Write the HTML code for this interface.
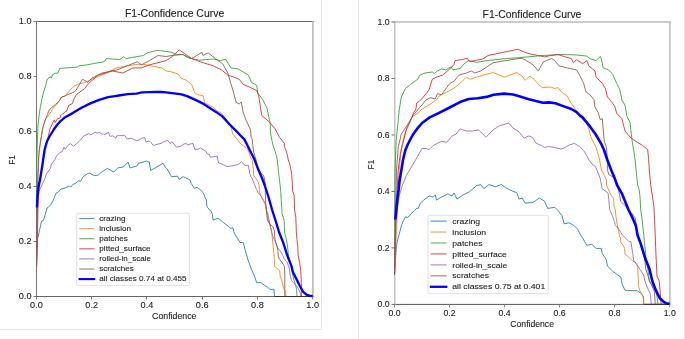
<!DOCTYPE html>
<html><head><meta charset="utf-8"><title>F1-Confidence Curves</title><style>
html,body{margin:0;padding:0;background:#fff;}
body{width:685px;height:339px;overflow:hidden;}
svg{display:block;}
text{font-family:"Liberation Sans",sans-serif;}
.t{will-change:transform;}
</style></head><body>
<svg class="t" width="685" height="339" viewBox="0 0 685 339">
<rect width="685" height="339" fill="#fff"/>
<line x1="321.5" y1="0" x2="321.5" y2="330" stroke="#e8e8e8" stroke-width="1"/>
<line x1="0" y1="329.5" x2="322" y2="329.5" stroke="#e8e8e8" stroke-width="1"/>
<line x1="358.5" y1="0" x2="358.5" y2="339" stroke="#e8e8e8" stroke-width="1"/>
<line x1="684.5" y1="0" x2="684.5" y2="339" stroke="#e8e8e8" stroke-width="1"/>
<line x1="36" y1="21.5" x2="313.7" y2="21.5" stroke="#666" stroke-width="1"/>
<line x1="36" y1="296.5" x2="313.7" y2="296.5" stroke="#666" stroke-width="1"/>
<line x1="36.5" y1="21" x2="36.5" y2="297" stroke="#777" stroke-width="1"/>
<line x1="312.9" y1="21" x2="312.9" y2="297" stroke="#b9b9b9" stroke-width="1.6"/>
<path d="M36.5,268.0 L37.5,239.0 L39.6,230.0 L41.5,221.2 L43.3,220.5 L45.2,214.6 L47.0,208.0 L48.1,207.6 L50.6,204.8 L53.2,200.6 L55.8,193.4 L57.9,192.4 L61.0,189.1 L65.2,188.0 L69.3,186.0 L70.8,187.0 L72.9,184.4 L75.5,183.4 L78.6,180.8 L80.6,181.3 L83.2,176.7 L87.9,173.4 L89.9,173.1 L92.0,174.6 L94.6,175.6 L98.2,175.1 L102.3,171.5 L107.5,168.4 L113.7,172.0 L117.8,167.9 L123.5,166.9 L127.1,163.1 L128.0,162.2 L130.1,167.9 L137.3,165.8 L138.3,163.3 L144.5,161.7 L146.6,161.0 L148.1,162.2 L149.2,161.7 L150.7,170.5 L156.9,166.9 L163.1,163.3 L165.7,167.9 L167.2,168.9 L171.4,176.7 L177.6,176.2 L179.1,179.3 L183.2,176.7 L189.9,179.8 L191.3,183.5 L194.4,188.4 L197.1,187.3 L199.7,189.3 L202.4,191.5 L204.2,195.0 L205.5,199.0 L206.4,199.5 L206.8,206.0 L207.7,207.7 L211.2,211.6 L212.5,214.7 L213.0,220.0 L218.3,218.3 L223.6,222.7 L228.9,226.7 L230.7,228.5 L232.9,227.6 L233.8,231.5 L235.1,234.6 L240.1,242.5 L243.2,242.5 L245.3,250.7 L248.4,261.0 L251.5,269.3 L254.6,276.5 L256.7,282.7 L260.8,282.7 L263.9,284.8 L266.0,286.3 L267.5,287.1 L269.7,289.3 L273.9,289.3 L274.5,296.5 L312.5,296.5" fill="none" stroke="#1f77b4" stroke-width="0.95" stroke-opacity="0.9" stroke-linejoin="round"/>
<path d="M36.5,268.0 L37.5,200.0 L38.0,180.0 L38.6,165.0 L38.9,155.0 L39.5,149.2 L40.6,142.2 L41.7,135.1 L42.5,130.0 L43.1,126.1 L44.4,123.0 L45.3,119.9 L46.6,117.7 L48.8,115.0 L49.3,114.2 L51.0,111.9 L52.8,108.8 L54.6,106.2 L57.2,104.0 L59.9,100.0 L61.1,97.4 L64.7,95.9 L68.2,92.7 L69.4,90.3 L71.8,88.5 L74.0,86.2 L77.4,84.4 L85.6,82.3 L93.9,78.2 L104.2,74.1 L116.6,67.9 L126.9,65.8 L137.2,64.4 L146.5,64.8 L155.8,66.8 L162.0,67.9 L166.1,71.0 L172.0,72.0 L178.2,74.1 L181.3,78.2 L186.5,80.3 L191.6,84.4 L194.7,92.7 L197.8,94.7 L203.0,95.8 L204.6,102.0 L205.0,103.1 L213.3,107.2 L216.4,110.3 L221.6,113.4 L230.8,126.8 L232.9,134.1 L238.1,140.3 L240.0,143.1 L243.7,146.1 L247.4,148.6 L248.8,152.0 L250.3,157.1 L252.2,160.0 L253.3,168.8 L253.7,175.5 L255.9,178.4 L258.1,182.1 L259.1,185.0 L259.4,191.6 L261.6,197.5 L264.6,203.4 L266.1,207.1 L266.5,210.0 L267.4,217.4 L268.5,219.6 L269.6,224.7 L271.5,230.0 L272.3,237.9 L273.1,246.7 L274.2,256.3 L274.5,266.1 L276.7,268.3 L279.7,270.5 L280.1,275.6 L281.5,280.0 L284.1,289.3 L285.6,290.8 L285.9,296.5 L312.5,296.5" fill="none" stroke="#ff7f0e" stroke-width="0.95" stroke-opacity="0.9" stroke-linejoin="round"/>
<path d="M36.5,268.0 L36.8,165.0 L37.1,150.0 L37.4,140.0 L37.8,130.0 L38.2,123.8 L39.1,115.0 L40.4,106.6 L41.8,100.0 L42.8,95.0 L44.0,90.9 L45.8,85.0 L47.3,79.0 L50.4,76.8 L51.3,78.1 L52.6,74.6 L55.2,73.3 L57.9,73.1 L59.7,68.4 L65.0,68.0 L77.4,67.1 L79.1,65.8 L87.1,64.9 L94.0,63.5 L104.2,61.7 L106.3,58.6 L119.7,59.6 L123.8,56.5 L125.9,58.6 L143.4,55.5 L147.6,52.8 L156.9,50.3 L166.1,51.4 L172.0,52.4 L175.1,54.0 L178.2,54.5 L183.4,54.5 L187.5,57.6 L198.8,60.2 L213.3,59.0 L220.5,60.6 L225.7,59.2 L230.8,67.9 L238.1,68.9 L248.4,75.1 L251.5,82.3 L256.7,85.4 L257.7,92.7 L262.9,99.9 L267.0,108.3 L270.1,122.7 L270.5,133.0 L271.7,139.4 L273.2,146.1 L275.4,152.0 L277.3,160.0 L278.0,167.4 L278.8,174.7 L280.1,185.0 L280.8,192.4 L281.2,199.7 L281.9,209.3 L282.1,214.4 L283.6,218.1 L284.3,221.8 L284.5,232.0 L285.6,236.4 L287.4,244.5 L288.5,256.3 L291.0,266.0 L293.7,279.3 L295.5,284.8 L296.6,289.3 L297.0,296.5 L312.5,296.5" fill="none" stroke="#2ca02c" stroke-width="0.95" stroke-opacity="0.9" stroke-linejoin="round"/>
<path d="M36.5,268.0 L37.5,230.0 L38.2,200.0 L38.7,186.0 L40.0,180.0 L41.2,172.5 L42.4,165.0 L43.4,158.0 L44.6,150.0 L45.9,145.0 L47.3,140.7 L48.6,135.4 L49.7,129.6 L50.6,127.4 L52.8,122.5 L54.6,119.9 L55.0,122.5 L57.7,118.5 L59.9,118.1 L60.8,115.4 L63.0,113.7 L65.6,111.5 L66.3,111.5 L68.9,105.3 L72.5,103.5 L73.4,100.0 L76.3,94.7 L84.6,88.5 L88.7,83.4 L98.0,75.1 L112.5,71.0 L122.8,73.0 L133.1,67.9 L141.4,67.9 L149.6,64.8 L166.1,60.6 L172.3,56.5 L179.2,49.9 L184.4,53.4 L191.6,58.6 L203.0,62.7 L213.3,65.8 L221.6,69.9 L227.8,75.1 L233.9,77.2 L239.1,79.2 L243.2,84.4 L250.5,87.5 L256.7,90.6 L258.7,95.8 L261.8,115.5 L269.0,121.7 L275.2,128.9 L279.4,137.2 L284.5,143.4 L284.2,146.1 L285.7,149.7 L287.2,154.2 L288.3,160.0 L289.8,164.4 L290.9,169.6 L291.7,174.7 L292.4,185.0 L292.6,190.9 L294.1,195.3 L294.5,203.4 L294.5,209.3 L295.8,217.4 L296.1,224.7 L296.3,232.0 L297.0,239.4 L297.8,246.7 L298.1,255.0 L299.6,262.4 L300.7,269.8 L301.0,276.0 L301.4,283.4 L301.2,289.3 L301.5,296.5 L312.5,296.5" fill="none" stroke="#d62728" stroke-width="0.95" stroke-opacity="0.9" stroke-linejoin="round"/>
<path d="M36.5,268.0 L37.0,215.0 L38.2,198.0 L39.5,190.0 L41.5,186.0 L44.2,180.0 L45.0,178.3 L46.4,173.8 L47.7,172.1 L50.4,168.5 L51.2,165.0 L52.6,162.4 L54.8,159.7 L56.5,156.2 L60.0,152.4 L62.1,151.8 L64.1,147.2 L65.2,149.3 L67.7,145.6 L70.3,143.6 L73.4,146.2 L76.5,143.6 L80.6,140.0 L83.2,136.4 L84.8,135.3 L88.9,133.8 L91.0,134.8 L95.1,132.2 L97.2,133.3 L99.2,132.2 L102.3,134.3 L103.4,133.8 L104.4,134.8 L108.5,132.2 L110.1,136.4 L112.7,135.8 L115.8,138.2 L116.8,135.8 L124.5,135.3 L127.1,138.9 L128.0,138.9 L131.1,138.2 L136.3,140.5 L138.3,140.3 L141.4,138.4 L144.5,137.6 L146.1,142.0 L148.6,141.0 L150.2,141.5 L153.3,145.6 L155.9,144.6 L161.0,143.4 L164.1,141.5 L167.7,140.5 L170.3,143.6 L171.9,141.5 L176.5,147.2 L180.7,146.2 L183.8,144.1 L186.3,143.4 L187.4,145.1 L189.9,144.1 L193.0,143.4 L194.6,149.3 L198.0,149.3 L200.4,148.0 L205.7,151.1 L207.5,154.2 L209.3,154.2 L210.2,157.3 L217.2,156.1 L218.6,163.0 L220.8,163.5 L227.0,166.5 L233.2,165.7 L238.5,164.3 L241.6,161.7 L245.1,165.7 L248.2,165.2 L249.1,170.0 L249.4,170.0 L249.6,173.0 L250.5,176.0 L252.2,178.4 L254.4,184.3 L255.0,185.7 L256.5,189.4 L257.9,192.4 L260.9,196.1 L263.8,200.5 L265.7,204.2 L266.4,209.3 L268.0,215.0 L270.0,224.0 L271.6,232.0 L273.1,237.2 L275.3,241.6 L277.5,247.5 L280.4,251.2 L282.6,255.0 L284.1,258.7 L287.1,262.4 L289.3,268.3 L290.3,276.0 L291.4,280.4 L294.0,283.4 L295.5,284.8 L298.0,288.0 L300.3,293.0 L300.7,296.5 L312.5,296.5" fill="none" stroke="#9467bd" stroke-width="0.95" stroke-opacity="0.9" stroke-linejoin="round"/>
<path d="M36.5,268.0 L37.3,200.0 L37.8,180.0 L38.3,165.0 L38.7,156.0 L39.3,149.0 L40.4,142.0 L41.5,135.0 L42.3,130.0 L43.3,126.0 L44.5,122.0 L46.0,118.0 L47.5,114.6 L48.4,111.9 L49.7,109.3 L51.9,107.5 L55.5,104.4 L59.9,100.0 L61.1,97.4 L65.9,95.6 L69.4,93.8 L74.0,92.1 L76.0,90.3 L82.5,79.2 L87.7,82.3 L91.8,78.2 L102.1,73.0 L116.6,70.0 L124.9,66.8 L137.2,61.7 L141.4,64.8 L149.6,60.6 L157.9,55.5 L166.1,56.5 L172.0,55.5 L182.3,54.5 L191.6,58.6 L196.8,55.5 L201.9,52.4 L203.0,55.5 L208.1,52.8 L215.4,58.6 L222.6,63.7 L227.8,73.0 L230.8,83.4 L233.9,93.7 L236.0,102.0 L239.1,104.0 L241.2,102.0 L243.2,112.4 L246.3,120.6 L250.5,129.9 L251.1,137.0 L252.2,139.4 L252.9,146.1 L253.6,152.0 L255.9,159.3 L257.7,168.1 L261.1,173.3 L263.6,175.5 L264.4,178.4 L265.3,185.0 L265.3,192.4 L265.7,203.4 L266.1,209.3 L267.0,215.9 L267.4,220.3 L270.3,224.7 L273.3,227.0 L274.0,229.9 L274.5,232.0 L274.9,239.4 L276.7,245.3 L277.9,250.4 L278.2,256.3 L279.7,259.4 L283.4,264.6 L284.5,266.8 L284.8,276.0 L284.8,296.5 L312.5,296.5" fill="none" stroke="#8c564b" stroke-width="0.95" stroke-opacity="0.9" stroke-linejoin="round"/>
<line x1="274.5" y1="296.5" x2="312.7" y2="296.5" stroke="#3b3030" stroke-width="1"/>
<path d="M36.9,207.5 L37.3,200.0 L37.9,192.0 L38.7,186.0 L40.0,180.0 L41.2,172.5 L42.4,165.0 L43.4,158.0 L44.6,150.0 L45.9,145.0 L47.3,140.7 L49.5,136.5 L52.0,132.5 L54.3,128.7 L57.0,125.0 L60.8,120.8 L65.2,117.2 L72.7,113.1 L81.5,107.8 L90.4,103.4 L99.2,99.9 L108.1,97.2 L115.0,96.1 L118.8,95.5 L127.7,94.2 L136.5,93.6 L141.9,92.4 L149.8,92.1 L156.0,91.9 L161.3,92.0 L166.0,92.3 L170.0,92.8 L176.0,93.6 L181.5,94.4 L187.7,96.4 L196.5,100.4 L203.6,103.9 L209.8,107.9 L216.0,111.9 L222.4,116.4 L229.7,124.5 L235.6,130.4 L240.7,135.7 L244.4,139.4 L248.1,146.8 L251.1,152.7 L254.4,159.3 L258.5,170.0 L262.0,178.0 L264.6,185.0 L268.5,197.0 L272.2,210.0 L276.0,222.0 L279.0,232.0 L283.4,243.1 L287.1,255.0 L291.5,266.1 L292.9,272.0 L296.6,279.4 L299.9,286.0 L303.2,291.8 L306.5,294.7 L309.8,295.9 L312.7,296.0" fill="none" stroke="#0000ff" stroke-width="2.35" stroke-linejoin="round" stroke-linecap="butt"/>
<line x1="36.50" y1="296.5" x2="36.50" y2="299.5" stroke="#666" stroke-width="0.9"/>
<line x1="33.5" y1="296.50" x2="36.5" y2="296.50" stroke="#666" stroke-width="0.9"/>
<text x="36.50" y="308.00" text-anchor="middle" font-size="8.5" textLength="12.72" lengthAdjust="spacingAndGlyphs" fill="#222" stroke="#222" stroke-width="0.1">0.0</text>
<text x="31.50" y="299.30" text-anchor="end" font-size="8.5" textLength="12.72" lengthAdjust="spacingAndGlyphs" fill="#222" stroke="#222" stroke-width="0.1">0.0</text>
<line x1="91.50" y1="296.5" x2="91.50" y2="299.5" stroke="#666" stroke-width="0.9"/>
<line x1="33.5" y1="241.50" x2="36.5" y2="241.50" stroke="#666" stroke-width="0.9"/>
<text x="91.74" y="308.00" text-anchor="middle" font-size="8.5" textLength="12.72" lengthAdjust="spacingAndGlyphs" fill="#222" stroke="#222" stroke-width="0.1">0.2</text>
<text x="31.50" y="244.30" text-anchor="end" font-size="8.5" textLength="12.72" lengthAdjust="spacingAndGlyphs" fill="#222" stroke="#222" stroke-width="0.1">0.2</text>
<line x1="146.50" y1="296.5" x2="146.50" y2="299.5" stroke="#666" stroke-width="0.9"/>
<line x1="33.5" y1="186.50" x2="36.5" y2="186.50" stroke="#666" stroke-width="0.9"/>
<text x="146.98" y="308.00" text-anchor="middle" font-size="8.5" textLength="12.72" lengthAdjust="spacingAndGlyphs" fill="#222" stroke="#222" stroke-width="0.1">0.4</text>
<text x="31.50" y="189.30" text-anchor="end" font-size="8.5" textLength="12.72" lengthAdjust="spacingAndGlyphs" fill="#222" stroke="#222" stroke-width="0.1">0.4</text>
<line x1="202.50" y1="296.5" x2="202.50" y2="299.5" stroke="#666" stroke-width="0.9"/>
<line x1="33.5" y1="131.50" x2="36.5" y2="131.50" stroke="#666" stroke-width="0.9"/>
<text x="202.22" y="308.00" text-anchor="middle" font-size="8.5" textLength="12.72" lengthAdjust="spacingAndGlyphs" fill="#222" stroke="#222" stroke-width="0.1">0.6</text>
<text x="31.50" y="134.30" text-anchor="end" font-size="8.5" textLength="12.72" lengthAdjust="spacingAndGlyphs" fill="#222" stroke="#222" stroke-width="0.1">0.6</text>
<line x1="257.50" y1="296.5" x2="257.50" y2="299.5" stroke="#666" stroke-width="0.9"/>
<line x1="33.5" y1="76.50" x2="36.5" y2="76.50" stroke="#666" stroke-width="0.9"/>
<text x="257.46" y="308.00" text-anchor="middle" font-size="8.5" textLength="12.72" lengthAdjust="spacingAndGlyphs" fill="#222" stroke="#222" stroke-width="0.1">0.8</text>
<text x="31.50" y="79.30" text-anchor="end" font-size="8.5" textLength="12.72" lengthAdjust="spacingAndGlyphs" fill="#222" stroke="#222" stroke-width="0.1">0.8</text>
<line x1="312.70" y1="296.5" x2="312.70" y2="299.5" stroke="#666" stroke-width="0.9"/>
<line x1="33.5" y1="21.50" x2="36.5" y2="21.50" stroke="#666" stroke-width="0.9"/>
<text x="312.70" y="308.00" text-anchor="middle" font-size="8.5" textLength="12.72" lengthAdjust="spacingAndGlyphs" fill="#222" stroke="#222" stroke-width="0.1">1.0</text>
<text x="31.50" y="24.30" text-anchor="end" font-size="8.5" textLength="12.72" lengthAdjust="spacingAndGlyphs" fill="#222" stroke="#222" stroke-width="0.1">1.0</text>
<text x="174.25" y="319.00" text-anchor="middle" font-size="8.4" textLength="44.30" lengthAdjust="spacingAndGlyphs" fill="#222" stroke="#222" stroke-width="0.1">Confidence</text>
<g transform="translate(15,164.7) rotate(-90)"><text x="0.00" y="0.00" font-size="8.4" textLength="9.70" lengthAdjust="spacingAndGlyphs" fill="#222" stroke="#222" stroke-width="0.1">F1</text></g>
<text x="174.60" y="16.80" text-anchor="middle" font-size="10.0" textLength="99.29" lengthAdjust="spacingAndGlyphs" fill="#222" stroke="#222" stroke-width="0.1">F1-Confidence Curve</text>
<rect x="76.6" y="213.3" width="112.80000000000001" height="72.39999999999998" rx="1.5" fill="#fff" fill-opacity="0.8" stroke="#d9d9d9" stroke-width="0.8"/>
<line x1="79.3" y1="218.60" x2="94.4" y2="218.60" stroke="#1f77b4" stroke-width="0.95" stroke-opacity="0.9"/>
<text x="99.30" y="221.00" font-size="7.5" textLength="26.18" lengthAdjust="spacingAndGlyphs" fill="#222" stroke="#222" stroke-width="0.1">crazing</text>
<line x1="79.3" y1="228.68" x2="94.4" y2="228.68" stroke="#ff7f0e" stroke-width="0.95" stroke-opacity="0.9"/>
<text x="99.30" y="231.08" font-size="7.5" textLength="31.73" lengthAdjust="spacingAndGlyphs" fill="#222" stroke="#222" stroke-width="0.1">inclusion</text>
<line x1="79.3" y1="238.76" x2="94.4" y2="238.76" stroke="#2ca02c" stroke-width="0.95" stroke-opacity="0.9"/>
<text x="99.30" y="241.16" font-size="7.5" textLength="28.43" lengthAdjust="spacingAndGlyphs" fill="#222" stroke="#222" stroke-width="0.1">patches</text>
<line x1="79.3" y1="248.84" x2="94.4" y2="248.84" stroke="#d62728" stroke-width="0.95" stroke-opacity="0.9"/>
<text x="99.30" y="251.24" font-size="7.5" textLength="51.29" lengthAdjust="spacingAndGlyphs" fill="#222" stroke="#222" stroke-width="0.1">pitted_surface</text>
<line x1="79.3" y1="258.92" x2="94.4" y2="258.92" stroke="#9467bd" stroke-width="0.95" stroke-opacity="0.9"/>
<text x="99.30" y="261.32" font-size="7.5" textLength="51.55" lengthAdjust="spacingAndGlyphs" fill="#222" stroke="#222" stroke-width="0.1">rolled-in_scale</text>
<line x1="79.3" y1="269.00" x2="94.4" y2="269.00" stroke="#8c564b" stroke-width="0.95" stroke-opacity="0.9"/>
<text x="99.30" y="271.40" font-size="7.5" textLength="34.51" lengthAdjust="spacingAndGlyphs" fill="#222" stroke="#222" stroke-width="0.1">scratches</text>
<line x1="78.5" y1="279.08" x2="95.2" y2="279.08" stroke="#0000ff" stroke-width="2.1" stroke-opacity="1"/>
<text x="99.30" y="281.48" font-size="7.5" textLength="87.26" lengthAdjust="spacingAndGlyphs" fill="#222" stroke="#222" stroke-width="0.1">all classes 0.74 at 0.455</text>
<line x1="394.1" y1="22" x2="670.7" y2="22" stroke="#bbb" stroke-width="1.6"/>
<line x1="394.1" y1="304.4" x2="670.7" y2="304.4" stroke="#555" stroke-width="1"/>
<line x1="394.8" y1="21.2" x2="394.8" y2="304.9" stroke="#bdbdbd" stroke-width="1.35"/>
<line x1="669.9" y1="21.2" x2="669.9" y2="304.9" stroke="#b5b5b5" stroke-width="1.4"/>
<path d="M394.5,275.0 L396.1,250.0 L396.8,243.4 L399.1,234.6 L401.6,225.0 L403.5,220.6 L405.7,216.6 L407.2,217.7 L409.4,215.9 L410.9,214.0 L414.5,210.3 L417.1,208.1 L418.2,208.5 L420.4,203.0 L423.4,200.4 L425.0,199.1 L429.2,196.0 L433.3,197.0 L435.4,194.9 L436.4,200.1 L441.6,197.0 L447.8,193.9 L451.9,196.0 L454.0,192.9 L457.0,199.1 L463.2,194.9 L469.4,191.8 L476.7,185.6 L480.8,184.6 L483.9,188.7 L489.0,184.6 L495.2,186.7 L501.4,184.6 L505.6,187.7 L509.7,189.8 L516.9,192.9 L519.0,199.1 L522.1,198.0 L525.2,203.2 L532.0,202.6 L534.1,201.8 L539.3,198.0 L544.5,201.1 L547.6,208.4 L554.8,207.3 L557.9,210.4 L562.0,215.6 L564.1,223.8 L569.2,222.8 L574.4,225.9 L577.5,229.0 L580.6,235.0 L582.7,238.1 L586.8,245.3 L591.9,244.3 L596.1,248.4 L601.2,248.4 L602.3,253.6 L606.4,259.8 L607.4,266.0 L612.6,271.1 L620.9,277.3 L621.9,283.5 L625.0,290.3 L637.4,290.8 L641.5,293.8 L643.6,297.0 L643.6,304.4 L669.7,304.4" fill="none" stroke="#1f77b4" stroke-width="0.95" stroke-opacity="0.9" stroke-linejoin="round"/>
<path d="M394.5,275.0 L399.2,170.0 L401.3,149.6 L404.4,135.1 L408.5,124.8 L412.6,116.5 L418.8,112.4 L420.9,110.0 L427.1,106.1 L433.3,101.9 L436.4,100.0 L439.5,95.8 L443.6,93.7 L449.8,90.6 L456.0,86.5 L462.2,81.3 L466.3,77.2 L470.5,79.2 L476.7,77.2 L482.9,75.1 L493.2,72.6 L499.4,75.1 L504.5,77.2 L509.7,75.1 L516.9,72.6 L522.1,76.1 L525.2,80.3 L528.3,77.2 L530.0,76.1 L534.1,79.2 L538.3,84.4 L542.4,87.5 L550.6,87.1 L554.8,88.5 L557.9,87.5 L562.0,92.7 L567.2,95.8 L570.3,102.0 L573.4,106.1 L575.4,109.3 L579.6,114.5 L582.7,115.5 L585.8,120.6 L588.8,128.9 L590.9,137.2 L593.0,141.3 L596.1,147.5 L599.2,157.8 L601.5,170.0 L602.2,171.1 L604.4,175.5 L606.3,179.9 L606.6,185.0 L608.1,188.7 L611.1,195.3 L613.6,198.3 L614.0,206.4 L615.3,210.0 L616.1,217.4 L617.2,224.7 L618.3,229.9 L619.4,235.0 L620.5,238.7 L620.9,242.4 L623.1,245.3 L624.6,248.3 L625.0,254.2 L627.9,256.4 L629.6,258.0 L631.8,260.2 L636.2,263.2 L637.7,267.6 L638.1,276.4 L638.6,281.0 L638.3,285.4 L639.8,290.6 L642.7,295.8 L643.4,298.7 L643.4,304.4 L669.7,304.4" fill="none" stroke="#ff7f0e" stroke-width="0.95" stroke-opacity="0.9" stroke-linejoin="round"/>
<path d="M394.5,275.0 L395.1,170.0 L396.1,141.3 L398.2,120.6 L399.2,110.0 L401.3,97.0 L405.4,88.5 L410.6,84.4 L414.7,81.3 L417.8,79.2 L419.9,75.1 L425.0,73.0 L432.3,72.0 L434.3,73.5 L437.4,71.0 L441.6,68.9 L445.7,69.9 L450.8,66.8 L452.9,69.9 L460.1,68.5 L464.3,63.7 L468.4,60.6 L476.7,62.3 L487.0,60.6 L505.6,58.6 L520.0,57.6 L532.0,56.5 L542.4,55.5 L561.0,54.5 L575.4,54.9 L586.8,56.1 L589.9,58.6 L596.1,60.6 L600.2,56.5 L601.2,58.6 L603.3,67.9 L608.5,69.9 L612.6,74.1 L616.7,83.4 L619.8,89.6 L621.9,100.0 L625.0,105.2 L627.0,116.5 L630.1,122.7 L631.2,133.0 L632.2,141.3 L634.3,153.7 L635.3,161.9 L637.6,185.0 L639.1,189.4 L639.8,194.6 L640.2,199.8 L640.6,209.3 L641.9,217.4 L642.6,224.7 L643.7,234.3 L644.5,242.4 L645.6,253.4 L646.0,259.3 L648.0,270.0 L649.3,281.0 L656.0,292.1 L657.5,298.7 L657.8,304.4 L669.7,304.4" fill="none" stroke="#2ca02c" stroke-width="0.95" stroke-opacity="0.9" stroke-linejoin="round"/>
<path d="M394.5,275.0 L396.0,210.0 L398.2,170.0 L400.3,153.7 L403.4,141.3 L406.5,128.9 L410.6,120.6 L413.7,112.4 L415.7,110.0 L416.8,103.0 L420.9,99.9 L426.1,93.7 L429.2,89.6 L432.3,79.2 L436.4,77.2 L442.6,75.1 L449.8,68.9 L453.9,64.8 L455.0,60.6 L462.2,59.6 L467.4,58.2 L469.4,61.7 L476.7,60.2 L482.9,59.0 L488.0,55.5 L495.2,54.0 L507.6,51.4 L518.0,49.3 L524.2,52.0 L530.0,54.0 L538.3,55.5 L544.5,56.9 L550.6,55.5 L557.9,54.5 L564.1,56.5 L571.3,58.6 L573.4,62.7 L576.5,59.6 L582.7,63.7 L586.8,60.6 L588.8,65.8 L595.0,71.0 L596.1,77.2 L602.3,83.4 L605.4,88.5 L607.4,96.8 L611.6,102.0 L614.7,106.1 L616.7,113.4 L621.9,118.6 L625.0,131.0 L631.2,138.2 L637.4,142.3 L642.5,145.4 L647.7,149.6 L648.7,159.9 L649.3,170.0 L650.8,185.6 L653.9,206.3 L654.9,226.9 L656.0,255.6 L657.0,276.3 L659.1,280.4 L660.1,290.8 L661.1,304.4 L669.7,304.4" fill="none" stroke="#d62728" stroke-width="0.95" stroke-opacity="0.9" stroke-linejoin="round"/>
<path d="M394.5,275.0 L395.7,227.0 L397.2,210.4 L399.2,196.0 L402.3,185.6 L406.5,175.3 L412.6,165.0 L416.8,157.8 L421.9,148.5 L426.1,148.5 L429.2,149.6 L433.3,145.4 L441.6,141.3 L446.7,142.3 L451.9,136.1 L456.0,134.1 L460.1,128.9 L466.3,131.0 L472.5,131.0 L478.7,129.9 L486.0,137.2 L493.2,129.9 L499.4,125.8 L508.7,123.1 L512.8,127.9 L518.0,131.0 L524.2,138.2 L528.3,136.1 L530.0,136.1 L533.1,138.2 L536.2,143.4 L541.4,145.4 L544.5,147.5 L548.6,146.5 L554.8,147.5 L561.0,149.1 L565.1,147.5 L569.2,145.0 L574.4,143.4 L579.6,146.5 L583.7,150.6 L586.8,155.7 L588.8,159.9 L592.0,164.0 L595.0,166.1 L596.1,168.1 L600.0,177.7 L601.5,185.0 L602.2,188.7 L608.1,193.1 L608.8,199.8 L609.6,209.3 L612.4,215.9 L614.6,221.8 L615.3,225.5 L618.3,228.4 L622.4,235.0 L626.1,238.7 L629.0,241.6 L630.9,241.6 L631.6,246.1 L632.7,253.4 L633.4,258.0 L634.0,261.0 L637.0,264.6 L640.6,270.5 L643.6,275.0 L644.9,281.0 L647.1,286.9 L650.1,293.5 L650.8,298.0 L651.2,304.4 L669.7,304.4" fill="none" stroke="#9467bd" stroke-width="0.95" stroke-opacity="0.9" stroke-linejoin="round"/>
<path d="M394.5,275.0 L396.5,170.0 L398.2,147.5 L401.3,134.1 L407.5,124.8 L413.7,114.5 L420.9,106.2 L426.1,99.9 L430.2,97.8 L435.4,98.8 L437.4,93.7 L441.6,94.7 L446.7,87.5 L449.8,83.4 L453.9,81.3 L459.1,75.1 L466.3,73.0 L471.5,71.0 L474.6,73.0 L480.8,71.0 L487.0,66.8 L493.2,62.7 L501.4,61.3 L515.9,59.0 L522.1,58.2 L526.2,60.6 L530.0,62.7 L534.1,65.8 L538.3,71.0 L543.4,61.7 L546.5,60.6 L551.7,58.6 L554.8,60.6 L558.9,65.8 L567.2,67.9 L576.5,69.9 L579.6,75.1 L583.7,83.4 L585.8,91.6 L590.9,95.8 L594.0,99.9 L595.0,107.2 L598.1,112.4 L600.2,119.6 L602.3,118.6 L603.3,131.0 L604.3,141.3 L606.4,147.5 L607.4,157.8 L607.4,164.4 L607.4,169.6 L608.8,174.7 L610.7,175.5 L613.8,177.6 L617.2,185.0 L619.5,194.6 L620.7,201.2 L625.8,206.4 L628.2,210.0 L631.5,213.0 L635.2,218.1 L636.0,222.5 L637.2,235.0 L640.3,243.9 L644.5,258.0 L645.8,269.1 L649.5,280.9 L650.8,283.2 L653.0,288.4 L654.5,292.1 L655.2,304.4 L669.7,304.4" fill="none" stroke="#8c564b" stroke-width="0.95" stroke-opacity="0.9" stroke-linejoin="round"/>
<line x1="643.4" y1="304.4" x2="669.7" y2="304.4" stroke="#3b3030" stroke-width="1"/>
<path d="M395.3,219.5 L396.0,212.0 L396.8,204.0 L397.8,196.0 L398.6,190.0 L399.5,181.2 L401.3,170.6 L403.0,160.0 L405.3,150.3 L407.5,145.0 L410.0,140.0 L413.0,134.5 L416.8,129.2 L422.1,123.0 L429.2,117.7 L438.1,113.3 L448.7,108.0 L460.0,102.1 L468.8,99.0 L477.7,98.2 L486.5,96.9 L493.6,94.8 L504.2,93.6 L513.1,94.5 L520.0,96.5 L528.8,99.3 L535.9,101.1 L543.0,102.7 L549.2,102.4 L555.4,103.3 L562.5,105.9 L571.3,109.0 L576.6,112.1 L580.0,115.7 L582.4,117.4 L589.8,126.2 L596.1,135.0 L601.2,143.8 L604.2,150.5 L607.1,159.3 L611.2,170.0 L614.4,177.4 L617.0,185.0 L622.1,193.9 L628.6,210.0 L633.0,218.9 L636.0,226.2 L637.5,235.0 L640.8,243.9 L645.1,258.0 L649.5,269.1 L652.3,281.0 L656.0,290.6 L659.7,298.0 L663.4,301.7 L666.0,303.2 L669.7,303.8" fill="none" stroke="#0000ff" stroke-width="2.6" stroke-linejoin="round" stroke-linecap="butt"/>
<line x1="394.50" y1="304.4" x2="394.50" y2="307.4" stroke="#777" stroke-width="0.9"/>
<line x1="391.5" y1="304.40" x2="394.5" y2="304.40" stroke="#555" stroke-width="0.9"/>
<text x="394.50" y="316.10" text-anchor="middle" font-size="8.4" textLength="12.08" lengthAdjust="spacingAndGlyphs" fill="#222" stroke="#222" stroke-width="0.1">0.0</text>
<text x="389.70" y="307.40" text-anchor="end" font-size="8.4" textLength="12.08" lengthAdjust="spacingAndGlyphs" fill="#222" stroke="#222" stroke-width="0.1">0.0</text>
<line x1="449.50" y1="304.4" x2="449.50" y2="307.4" stroke="#777" stroke-width="0.9"/>
<line x1="391.5" y1="247.92" x2="394.5" y2="247.92" stroke="#555" stroke-width="0.9"/>
<text x="449.54" y="316.10" text-anchor="middle" font-size="8.4" textLength="12.08" lengthAdjust="spacingAndGlyphs" fill="#222" stroke="#222" stroke-width="0.1">0.2</text>
<text x="389.70" y="250.92" text-anchor="end" font-size="8.4" textLength="12.08" lengthAdjust="spacingAndGlyphs" fill="#222" stroke="#222" stroke-width="0.1">0.2</text>
<line x1="504.50" y1="304.4" x2="504.50" y2="307.4" stroke="#777" stroke-width="0.9"/>
<line x1="391.5" y1="191.44" x2="394.5" y2="191.44" stroke="#555" stroke-width="0.9"/>
<text x="504.58" y="316.10" text-anchor="middle" font-size="8.4" textLength="12.08" lengthAdjust="spacingAndGlyphs" fill="#222" stroke="#222" stroke-width="0.1">0.4</text>
<text x="389.70" y="194.44" text-anchor="end" font-size="8.4" textLength="12.08" lengthAdjust="spacingAndGlyphs" fill="#222" stroke="#222" stroke-width="0.1">0.4</text>
<line x1="559.50" y1="304.4" x2="559.50" y2="307.4" stroke="#777" stroke-width="0.9"/>
<line x1="391.5" y1="134.96" x2="394.5" y2="134.96" stroke="#555" stroke-width="0.9"/>
<text x="559.62" y="316.10" text-anchor="middle" font-size="8.4" textLength="12.08" lengthAdjust="spacingAndGlyphs" fill="#222" stroke="#222" stroke-width="0.1">0.6</text>
<text x="389.70" y="137.96" text-anchor="end" font-size="8.4" textLength="12.08" lengthAdjust="spacingAndGlyphs" fill="#222" stroke="#222" stroke-width="0.1">0.6</text>
<line x1="614.50" y1="304.4" x2="614.50" y2="307.4" stroke="#777" stroke-width="0.9"/>
<line x1="391.5" y1="78.48" x2="394.5" y2="78.48" stroke="#555" stroke-width="0.9"/>
<text x="614.66" y="316.10" text-anchor="middle" font-size="8.4" textLength="12.08" lengthAdjust="spacingAndGlyphs" fill="#222" stroke="#222" stroke-width="0.1">0.8</text>
<text x="389.70" y="81.48" text-anchor="end" font-size="8.4" textLength="12.08" lengthAdjust="spacingAndGlyphs" fill="#222" stroke="#222" stroke-width="0.1">0.8</text>
<line x1="669.70" y1="304.4" x2="669.70" y2="307.4" stroke="#777" stroke-width="0.9"/>
<line x1="391.5" y1="22.00" x2="394.5" y2="22.00" stroke="#555" stroke-width="0.9"/>
<text x="669.70" y="316.10" text-anchor="middle" font-size="8.4" textLength="12.08" lengthAdjust="spacingAndGlyphs" fill="#222" stroke="#222" stroke-width="0.1">1.0</text>
<text x="389.70" y="25.00" text-anchor="end" font-size="8.4" textLength="12.08" lengthAdjust="spacingAndGlyphs" fill="#222" stroke="#222" stroke-width="0.1">1.0</text>
<text x="532.15" y="327.40" text-anchor="middle" font-size="8.3" textLength="43.70" lengthAdjust="spacingAndGlyphs" fill="#222" stroke="#222" stroke-width="0.1">Confidence</text>
<g transform="translate(373.8,169.4) rotate(-90)"><text x="0.00" y="0.00" font-size="8.3" textLength="9.70" lengthAdjust="spacingAndGlyphs" fill="#222" stroke="#222" stroke-width="0.1">F1</text></g>
<text x="532.00" y="17.50" text-anchor="middle" font-size="10.0" textLength="98.77" lengthAdjust="spacingAndGlyphs" fill="#222" stroke="#222" stroke-width="0.1">F1-Confidence Curve</text>
<rect x="428" y="215.3" width="120.20000000000005" height="78.30000000000001" rx="1.5" fill="#fff" fill-opacity="0.8" stroke="#d9d9d9" stroke-width="0.8"/>
<line x1="430.6" y1="221.10" x2="446.6" y2="221.10" stroke="#1f77b4" stroke-width="0.95" stroke-opacity="0.9"/>
<text x="452.30" y="223.70" font-size="8.0" textLength="27.89" lengthAdjust="spacingAndGlyphs" fill="#222" stroke="#222" stroke-width="0.1">crazing</text>
<line x1="430.6" y1="232.05" x2="446.6" y2="232.05" stroke="#ff7f0e" stroke-width="0.95" stroke-opacity="0.9"/>
<text x="452.30" y="234.65" font-size="8.0" textLength="33.81" lengthAdjust="spacingAndGlyphs" fill="#222" stroke="#222" stroke-width="0.1">inclusion</text>
<line x1="430.6" y1="243.00" x2="446.6" y2="243.00" stroke="#2ca02c" stroke-width="0.95" stroke-opacity="0.9"/>
<text x="452.30" y="245.60" font-size="8.0" textLength="30.29" lengthAdjust="spacingAndGlyphs" fill="#222" stroke="#222" stroke-width="0.1">patches</text>
<line x1="430.6" y1="253.95" x2="446.6" y2="253.95" stroke="#d62728" stroke-width="0.95" stroke-opacity="0.9"/>
<text x="452.30" y="256.55" font-size="8.0" textLength="54.64" lengthAdjust="spacingAndGlyphs" fill="#222" stroke="#222" stroke-width="0.1">pitted_surface</text>
<line x1="430.6" y1="264.90" x2="446.6" y2="264.90" stroke="#9467bd" stroke-width="0.95" stroke-opacity="0.9"/>
<text x="452.30" y="267.50" font-size="8.0" textLength="54.92" lengthAdjust="spacingAndGlyphs" fill="#222" stroke="#222" stroke-width="0.1">rolled-in_scale</text>
<line x1="430.6" y1="275.85" x2="446.6" y2="275.85" stroke="#8c564b" stroke-width="0.95" stroke-opacity="0.9"/>
<text x="452.30" y="278.45" font-size="8.0" textLength="36.77" lengthAdjust="spacingAndGlyphs" fill="#222" stroke="#222" stroke-width="0.1">scratches</text>
<line x1="429.8" y1="286.80" x2="447.40000000000003" y2="286.80" stroke="#0000ff" stroke-width="2.3" stroke-opacity="1"/>
<text x="452.30" y="289.40" font-size="8.0" textLength="92.97" lengthAdjust="spacingAndGlyphs" fill="#222" stroke="#222" stroke-width="0.1">all classes 0.75 at 0.401</text>
</svg>
</body></html>
